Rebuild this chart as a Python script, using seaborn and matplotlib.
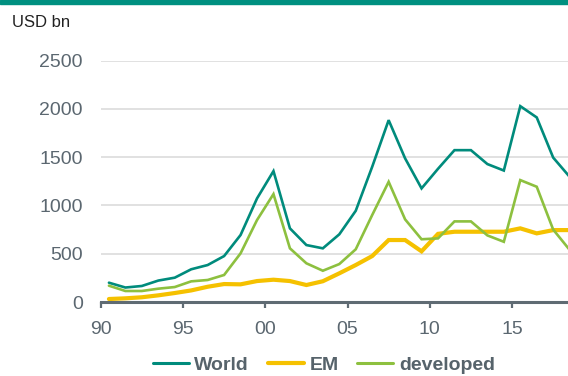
import numpy as np
import pandas as pd
import matplotlib
matplotlib.use("Agg")
import matplotlib.pyplot as plt
import seaborn as sns


# Annual values, USD bn (1990-2018)
years = list(range(1990, 2019))
world = [200, 150, 166, 222, 252, 339, 383, 476, 694, 1073, 1356, 763, 590, 556,
         701, 945, 1401, 1884, 1488, 1177, 1380, 1573, 1573, 1429, 1362, 2029,
         1912, 1496, 1297]
em = [31, 38, 49, 69, 93, 120, 158, 186, 183, 217, 231, 217, 176, 215,
      297, 383, 476, 642, 642, 525, 706, 728, 728, 728, 728, 763, 711, 745, 745]
developed = [169, 114, 114, 138, 155, 214, 228, 280, 504, 849, 1118, 556, 401, 324,
             393, 546, 901, 1245, 856, 650, 659, 835, 835, 690, 624, 1263, 1194,
             750, 540]
tick_years = [1990, 1995, 2000, 2005, 2010, 2015]

series_names = ["World", "EM", "developed"]
colors = {"World": "#008b7c", "EM": "#f5c100", "developed": "#8dc03f"}
widths = {"World": 1.9, "EM": 3.0, "developed": 1.9}

df = pd.DataFrame({"year": years, "World": world, "EM": em, "developed": developed})
df = df.melt(id_vars="year", var_name="series", value_name="value")
# points sit in the middle of each year
df["t"] = df["year"] + 0.5

sns.set_style("white")
plt.rcParams["font.family"] = ["Liberation Sans", "DejaVu Sans"]

fig = plt.figure(figsize=(5.68, 3.76), dpi=100)
ax = fig.add_axes([0.1773, 0.1968, 0.8227, 0.6418])

for name in series_names:
    sub = df[df["series"] == name]
    sns.lineplot(data=sub, x="t", y="value", ax=ax, color=colors[name],
                 linewidth=widths[name], label=name, legend=False,
                 solid_joinstyle="miter")

ax.set_xlim(1990, 2018.4)
ax.set_ylim(0, 2500)
ax.set_xticks(tick_years)
ax.set_xticklabels([f"{y % 100:02d}" for y in tick_years])
ax.set_yticks([0, 500, 1000, 1500, 2000, 2500])
ax.set_xlabel("")
ax.set_ylabel("")

ax.yaxis.grid(True, color="#d9d9d9", linewidth=1.1)
ax.set_axisbelow(True)
for s in ["left", "right", "top"]:
    ax.spines[s].set_visible(False)
ax.spines["bottom"].set_color("#5f6b73")
ax.spines["bottom"].set_linewidth(2.2)

ax.tick_params(axis="x", direction="out", length=4, width=1.6, color="#5f6b73",
               pad=10, labelsize=14, labelcolor="#5b6770", bottom=True)
ax.tick_params(axis="y", length=0, pad=13, labelsize=14, labelcolor="#5b6770")

fig.text(0.021, 0.94, "USD bn", fontsize=12, color="#222222", va="center", ha="left")

# teal band along the top edge
fig.add_artist(plt.Rectangle((0, 0.99), 1, 0.01, transform=fig.transFigure,
                             color="#009080", clip_on=False))

handles = [plt.Line2D([], [], color=colors[n], linewidth=2.2 if n != "EM" else 3.0)
           for n in series_names]
leg = fig.legend(handles, series_names, loc="center", bbox_to_anchor=(0.57, 0.03),
                 ncol=3, frameon=False, handlelength=1.85, handletextpad=0.3,
                 columnspacing=0.95, borderpad=0.1,
                 prop={"weight": "bold", "size": 14})
for t in leg.get_texts():
    t.set_color("#56636b")

plt.savefig("out.png", dpi=100)
